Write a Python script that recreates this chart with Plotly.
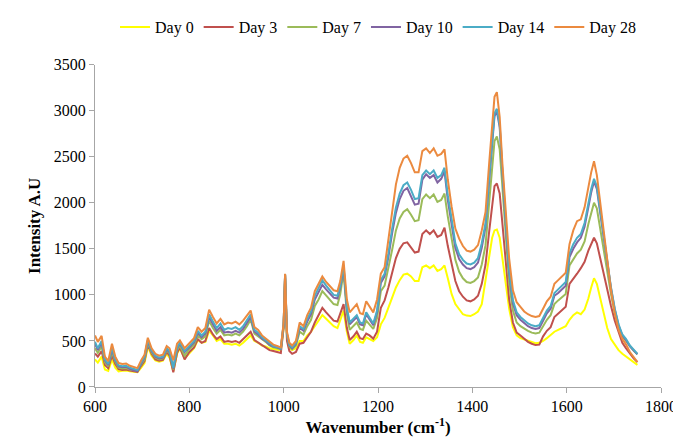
import plotly.graph_objects as go

wavenumber = [600, 606, 614, 621, 628, 636, 643, 650, 658, 666, 674, 682, 690, 698, 705, 712, 720, 728, 736, 744,
              752, 758, 766, 774, 780, 790, 800, 810, 818, 826, 834, 842, 850, 858, 866, 874, 882, 890, 898, 906,
              914, 922, 930, 938, 946, 954, 962, 970, 978, 986, 994, 1000, 1003, 1007, 1012, 1018, 1026, 1034, 1042, 1050,
              1058, 1066, 1074, 1082, 1090, 1098, 1106, 1114, 1120, 1127, 1134, 1140, 1148, 1155, 1162, 1168, 1175, 1182, 1190, 1198,
              1206, 1214, 1222, 1230, 1238, 1246, 1254, 1262, 1270, 1278, 1286, 1294, 1302, 1310, 1318, 1326, 1334, 1341, 1348, 1356,
              1364, 1372, 1380, 1388, 1396, 1404, 1412, 1420, 1428, 1436, 1442, 1447, 1452, 1458, 1464, 1470, 1478, 1486, 1494, 1502,
              1510, 1518, 1526, 1534, 1542, 1550, 1558, 1566, 1574, 1582, 1590, 1598, 1606, 1614, 1622, 1630, 1638, 1646, 1652, 1658,
              1664, 1670, 1678, 1686, 1694, 1702, 1710, 1718, 1726, 1734, 1742, 1750]

day0 = [300, 265, 330, 190, 175, 300, 210, 170, 175, 180, 170, 165, 160, 210, 260, 440, 340, 290, 275, 285,
        360, 320, 170, 360, 420, 310, 370, 420, 510, 480, 490, 610, 560, 500, 520, 470, 470, 460, 470, 450,
        480, 520, 560, 500, 480, 450, 440, 420, 410, 405, 400, 640, 1180, 520, 420, 400, 420, 500, 500, 560,
        600, 660, 720, 780, 740, 700, 660, 640, 720, 830, 600, 470, 510, 560, 490, 480, 540, 520, 500, 540,
        680, 750, 850, 970, 1080, 1160, 1220, 1230, 1200, 1150, 1150, 1300, 1320, 1290, 1320, 1260, 1280, 1320, 1180, 1010,
        900, 840, 790, 775, 770, 790, 820, 900, 1150, 1450, 1620, 1700, 1710, 1620, 1380, 1180, 850, 650, 560, 530,
        515, 505, 490, 475, 480, 500, 530, 570, 600, 620, 640, 660, 730, 780, 810, 790, 840, 960, 1080, 1180,
        1120, 980, 820, 640, 520, 460, 400, 360, 330, 300, 270, 240]

day3 = [365, 330, 390, 240, 205, 340, 250, 195, 185, 190, 180, 170, 165, 230, 280, 460, 360, 300, 285, 295,
        380, 340, 160, 370, 430, 300, 380, 430, 520, 480, 500, 640, 570, 520, 550, 490, 500, 490, 500, 480,
        520, 560, 600, 510, 480, 450, 430, 400, 390, 380, 370, 650, 1210, 500, 390, 360, 380, 470, 480, 540,
        600, 700, 780, 860, 810, 760, 720, 710, 790, 900, 640, 510, 550, 600, 530, 520, 580, 560, 525, 600,
        860, 940, 1080, 1250, 1400, 1500, 1560, 1570, 1520, 1460, 1470, 1660, 1700, 1660, 1700, 1630, 1650, 1730, 1530, 1350,
        1150, 1040, 980, 940, 930, 950, 990, 1120, 1330, 1700, 1990, 2180, 2210, 2100, 1760, 1430, 950, 700, 590, 560,
        520, 490, 470, 455, 460, 550, 610, 650, 760, 800, 840, 870, 1120, 1170, 1230, 1290, 1360, 1480, 1560, 1620,
        1560, 1420, 1240, 1060, 880, 720, 590, 480, 420, 360, 310, 270]

day7 = [420, 370, 440, 270, 225, 380, 275, 210, 200, 205, 190, 180, 175, 245, 300, 480, 375, 320, 300, 310,
        395, 365, 190, 400, 450, 340, 410, 460, 560, 520, 550, 720, 640, 580, 620, 560, 570, 560, 580, 560,
        600, 660, 730, 580, 550, 510, 490, 450, 430, 420, 410, 680, 1220, 560, 440, 410, 450, 600, 570, 660,
        730, 880, 950, 1040, 990, 940, 900, 890, 1010, 1250, 790, 620, 660, 700, 630, 620, 720, 680, 630, 750,
        1040, 1100, 1280, 1490, 1700, 1830, 1900, 1930, 1870, 1800, 1810, 2040, 2090, 2050, 2090, 2010, 2030, 2100, 1850, 1630,
        1380, 1250, 1180, 1140, 1130, 1150, 1190, 1330, 1540, 2020, 2400, 2670, 2720, 2580, 2150, 1720, 1130, 830, 700, 660,
        630, 610, 590, 580, 590, 660, 730, 780, 900, 940, 980, 1010, 1320, 1380, 1450, 1490, 1580, 1770, 1900, 2000,
        1940, 1750, 1520, 1260, 1010, 800, 650, 550, 500, 440, 395, 355]

day10 = [470, 400, 480, 290, 240, 410, 290, 225, 215, 220, 195, 180, 170, 255, 320, 500, 390, 330, 310, 320,
         410, 380, 200, 420, 470, 380, 430, 485, 590, 540, 580, 760, 680, 610, 650, 590, 600, 590, 610, 590,
         630, 700, 760, 600, 570, 525, 500, 460, 440, 430, 415, 680, 1220, 570, 450, 420, 470, 640, 610, 710,
         790, 950, 1030, 1110, 1060, 1010, 970, 960, 1080, 1300, 840, 680, 720, 760, 680, 670, 790, 740, 670, 810,
         1130, 1200, 1410, 1670, 1890, 2040, 2130, 2160, 2070, 1980, 1990, 2250, 2310, 2270, 2300, 2220, 2260, 2340, 2030, 1780,
         1510, 1390, 1330, 1290, 1280, 1300, 1350, 1510, 1740, 2260, 2660, 2940, 2990, 2820, 2300, 1830, 1240, 910, 780, 730,
         690, 660, 640, 630, 640, 720, 800, 850, 990, 1020, 1060, 1100, 1410, 1500, 1570, 1620, 1740, 1960, 2110, 2230,
         2150, 1930, 1640, 1350, 1070, 840, 670, 560, 510, 440, 395, 355]

day14 = [490, 420, 500, 300, 250, 430, 300, 235, 225, 230, 210, 195, 185, 270, 330, 510, 400, 340, 320, 330,
         420, 390, 210, 430, 480, 390, 440, 500, 610, 560, 600, 790, 710, 640, 690, 620, 640, 630, 650, 620,
         660, 730, 790, 620, 590, 540, 510, 470, 445, 435, 420, 690, 1220, 580, 460, 430, 480, 660, 630, 740,
         820, 990, 1070, 1160, 1100, 1050, 1000, 990, 1100, 1320, 860, 700, 740, 780, 700, 690, 810, 760, 690, 830,
         1160, 1230, 1450, 1720, 1950, 2100, 2190, 2220, 2140, 2040, 2050, 2300, 2350, 2310, 2350, 2270, 2300, 2380, 2080, 1830,
         1560, 1440, 1380, 1340, 1330, 1350, 1400, 1560, 1780, 2300, 2700, 2970, 3020, 2850, 2330, 1860, 1270, 940, 810, 760,
         720, 690, 670, 660, 670, 750, 830, 880, 1020, 1060, 1100, 1140, 1450, 1550, 1620, 1660, 1780, 2000, 2150, 2260,
         2180, 1960, 1660, 1370, 1080, 850, 680, 570, 520, 450, 400, 360]

day28 = [560, 490, 555, 330, 280, 470, 330, 260, 250, 255, 230, 215, 205, 290, 350, 535, 420, 360, 340, 350,
         445, 420, 290, 470, 505, 420, 470, 530, 650, 600, 640, 840, 760, 690, 740, 680, 700, 690, 710, 680,
         720, 780, 830, 650, 620, 560, 530, 490, 460, 445, 430, 700, 1230, 600, 480, 450, 500, 700, 660, 780,
         860, 1040, 1120, 1200, 1140, 1100, 1050, 1040, 1150, 1370, 950, 810, 860, 900, 800, 790, 930, 880, 810, 950,
         1230, 1300, 1600, 1950, 2200, 2380, 2480, 2510, 2430, 2330, 2330, 2560, 2590, 2540, 2590, 2510, 2530, 2580, 2250, 1960,
         1720, 1610, 1530, 1480, 1470, 1490, 1540, 1700, 1900, 2450, 2850, 3150, 3200, 2930, 2400, 1950, 1400, 1050, 920, 870,
         820, 790, 770, 760, 770, 850, 930, 980, 1120, 1160, 1200, 1240, 1550, 1700, 1800, 1820, 1950, 2180, 2330, 2450,
         2300, 2050, 1700, 1380, 1050, 800, 620, 520, 460, 380, 320, 270]

series = [
    ('Day 0', day0, '#FFFF00'),
    ('Day 3', day3, '#C0504D'),
    ('Day 7', day7, '#9BBB59'),
    ('Day 10', day10, '#8064A2'),
    ('Day 14', day14, '#4BACC6'),
    ('Day 28', day28, '#EB8A3F'),
]

fig = go.Figure()
for name, values, color in series:
    fig.add_trace(go.Scatter(x=wavenumber, y=values, mode='lines', name=name,
                             line=dict(color=color, width=2)))

serif = 'Times New Roman, Liberation Serif, serif'
fig.update_layout(width=681, height=437,
                  margin=dict(l=87, r=22, t=52, b=56),
                  paper_bgcolor='white', plot_bgcolor='white',
                  font=dict(family=serif, size=16, color='black'),
                  showlegend=True,
                  legend=dict(orientation='h', x=0.5, xanchor='center', y=0.995, yanchor='top',
                              yref='container', font=dict(family=serif, size=16, color='black'),
                              itemwidth=30, traceorder='normal'))

fig.update_xaxes(range=[600, 1800], dtick=200, tick0=600,
                 showline=True, linecolor='#A6A6A6', linewidth=1,
                 ticks='outside', ticklen=5, tickcolor='#A6A6A6',
                 tickfont=dict(family=serif, size=16, color='black'),
                 showgrid=False, zeroline=False,
                 title=dict(text='<b>Wavenumber (cm<sup>-1</sup>)</b>',
                            font=dict(family=serif, size=17, color='black'), standoff=6))
fig.update_yaxes(range=[0, 3500], dtick=500,
                 showline=True, linecolor='#A6A6A6', linewidth=1,
                 ticks='outside', ticklen=5, tickcolor='#A6A6A6',
                 tickfont=dict(family=serif, size=16, color='black'),
                 showgrid=False, zeroline=False,
                 title=dict(text='<b>Intensity A.U</b>',
                            font=dict(family=serif, size=17, color='black'), standoff=8))

fig.write_html("out.html")
